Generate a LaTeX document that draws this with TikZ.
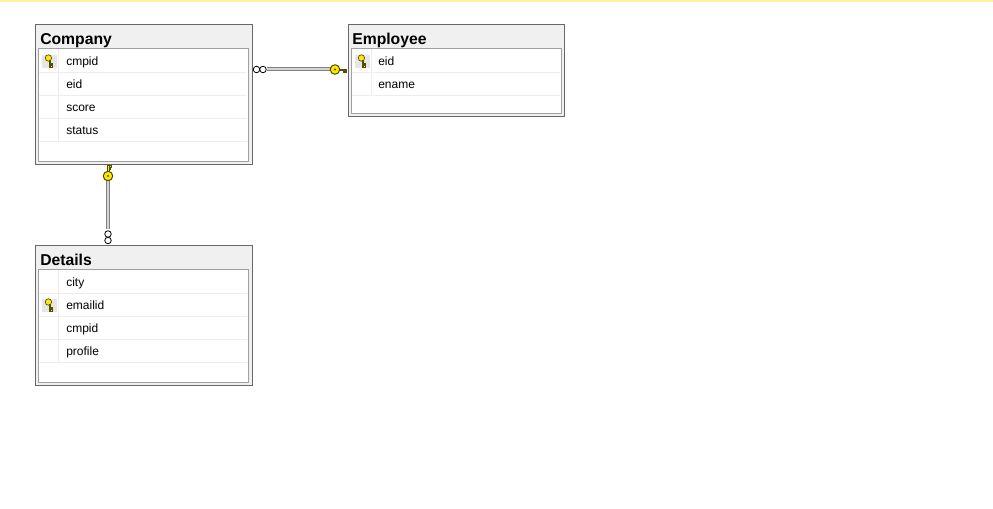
\documentclass[tikz,border=0pt]{standalone}
\usepackage{fontspec}
\setmainfont{Liberation Sans}
\begin{document}
\begin{tikzpicture}[x=0.75pt,y=-0.75pt]
\definecolor{boxdark}{HTML}{686868}
\definecolor{boxmid}{HTML}{A0A0A0}
\definecolor{titlebg}{HTML}{F0F0F0}
\definecolor{rowsep}{HTML}{EDEDED}
\definecolor{keybg}{HTML}{E6E6E6}
\definecolor{keyyellow}{HTML}{FFE800}
\definecolor{keyline}{HTML}{505000}
\definecolor{topline}{HTML}{FFF2A0}
\definecolor{lnedge}{HTML}{808080}
\definecolor{lnfill}{HTML}{D4D4D4}
\tikzset{
  outerbox/.style={draw=boxdark, fill=titlebg, line width=0.75pt, inner sep=0pt, anchor=north west},
  innerbox/.style={draw=boxmid, fill=white, line width=0.75pt, inner sep=0pt, anchor=north west},
  sepline/.style={draw=rowsep, line width=0.75pt},
  titletext/.style={anchor=base west, inner sep=0pt, font=\fontsize{11.8}{13}\selectfont\bfseries},
  rowtext/.style={anchor=base west, inner sep=0pt, font=\fontsize{9}{11}\selectfont},
  keybox/.style={fill=keybg, draw=none, inner sep=0pt, minimum width=15*0.75pt, minimum height=13*0.75pt},
  relline/.style={draw=lnedge, line width=0.75pt, double=lnfill, double distance=1.5pt},
  manyring/.style={circle, draw=black, fill=white, line width=0.6pt, inner sep=0pt, minimum size=6.5*0.75pt},
  keyring/.style={circle, draw=keyline, fill=keyyellow, line width=0.75pt, inner sep=0pt, minimum size=9.5*0.75pt},
  keypart/.style={draw=keyline, fill=keyyellow, line width=0.5pt},
}
% top yellow strip
\fill[topline] (0,0) rectangle (993,1.6);
\useasboundingbox (0,0) rectangle (993,509);

% small key icon in a column (x,y = centre of highlight)
\newcommand\colkey[2]{%
  \begin{scope}[shift={(#1,#2)}]
    \draw[keypart] (-1.6,-3.5) circle[radius=2.4pt];
    \draw[keypart] (-0.8,-1.0) rectangle (0.8,5.5);
    \draw[keypart] (0.8,2.0) rectangle (2.6,3.2);
    \draw[keypart] (0.8,4.3) rectangle (2.2,5.5);
  \end{scope}}

% ---------------- Company ----------------
\node[outerbox, minimum width=217*0.75pt, minimum height=140*0.75pt] (company) at (34.5,24.5) {};
\node[innerbox, minimum width=210*0.75pt, minimum height=113*0.75pt] (companyin) at (37.5,48.5) {};
\node[titletext] (companyt) at (40,45) {Company};
\foreach \y in {72.5,95.5,118.5,141.5} \draw[sepline] (38.5,\y) -- (246.5,\y);
\draw[sepline] (58.5,49) -- (58.5,141.5);
\node[keybox] (companyk) at (49.5,61.5) {};
\colkey{50}{61.5}
\node[rowtext] (c1) at (66,65.5) {cmpid};
\node[rowtext] (c2) at (66,88.5) {eid};
\node[rowtext] (c3) at (66,111.5) {score};
\node[rowtext] (c4) at (66,134.5) {status};

% ---------------- Employee ----------------
\node[outerbox, minimum width=216*0.75pt, minimum height=92*0.75pt] (employee) at (347.5,24.5) {};
\node[innerbox, minimum width=210*0.75pt, minimum height=65*0.75pt] (employeein) at (350.5,48.5) {};
\node[titletext] (employeet) at (352,45) {Employee};
\foreach \y in {72.5,95.5} \draw[sepline] (351.5,\y) -- (559.5,\y);
\draw[sepline] (371.5,49) -- (371.5,95.5);
\node[keybox] (employeek) at (362.5,61.5) {};
\colkey{363}{61.5}
\node[rowtext] (e1) at (378,65.5) {eid};
\node[rowtext] (e2) at (378,88.5) {ename};

% ---------------- Details ----------------
\node[outerbox, minimum width=217*0.75pt, minimum height=140*0.75pt] (details) at (34.5,245.5) {};
\node[innerbox, minimum width=210*0.75pt, minimum height=113*0.75pt] (detailsin) at (37.5,269.5) {};
\node[titletext] (detailst) at (40,266) {Details};
\foreach \y in {293.5,316.5,339.5,362.5} \draw[sepline] (38.5,\y) -- (246.5,\y);
\draw[sepline] (58.5,270) -- (58.5,362.5);
\node[keybox] (detailsk) at (49.5,305.5) {};
\colkey{50}{305.5}
\node[rowtext] (d1) at (66,286.5) {city};
\node[rowtext] (d2) at (66,309.5) {emailid};
\node[rowtext] (d3) at (66,332.5) {cmpid};
\node[rowtext] (d4) at (66,355.5) {profile};

% ---------------- Company -- Employee ----------------
\coordinate (ce) at (252,69.5);
\coordinate (ew) at (347,69.5);
\draw[relline, shorten <=15*0.75pt, shorten >=16*0.75pt] (ce) -- (ew);
\node[manyring] (r1) at ([xshift=4.5*0.75pt]ce) {};
\node[manyring] (r2) at ([xshift=11*0.75pt]ce) {};
\draw[keypart] ([xshift=-9*0.75pt,yshift=-1pt]ew) rectangle ([xshift=-0.5*0.75pt,yshift=0.3pt]ew);
\draw[keypart] ([xshift=-4*0.75pt,yshift=-1pt]ew) rectangle ([xshift=-2.5*0.75pt,yshift=-2.3pt]ew);
\draw[keypart] ([xshift=-2*0.75pt,yshift=-1pt]ew) rectangle ([xshift=-0.5*0.75pt,yshift=-2.5pt]ew);
\node[keyring] (k1) at ([xshift=-12*0.75pt]ew) {};
\fill[keyline] (k1.center) circle[radius=0.8pt];

% ---------------- Company -- Details ----------------
\coordinate (cs) at (108,164.5);
\coordinate (dn) at (108,245);
\draw[relline, shorten <=16*0.75pt, shorten >=15.5*0.75pt] (cs) -- (dn);
\node[manyring] (r3) at ([yshift=4.5*0.75pt]dn) {};
\node[manyring] (r4) at ([yshift=11*0.75pt]dn) {};
\draw[keypart] ([xshift=-0.7pt,yshift=-1*0.75pt]cs) rectangle ([xshift=0.7pt,yshift=-9*0.75pt]cs);
\draw[keypart] ([xshift=0.7pt,yshift=-1*0.75pt]cs) rectangle ([xshift=2.2pt,yshift=-2.5*0.75pt]cs);
\draw[keypart] ([xshift=0.7pt,yshift=-3.5*0.75pt]cs) rectangle ([xshift=1.9pt,yshift=-5*0.75pt]cs);
\node[keyring] (k2) at ([yshift=-11.5*0.75pt]cs) {};
\fill[keyline] (k2.center) circle[radius=0.8pt];
\end{tikzpicture}
\end{document}
